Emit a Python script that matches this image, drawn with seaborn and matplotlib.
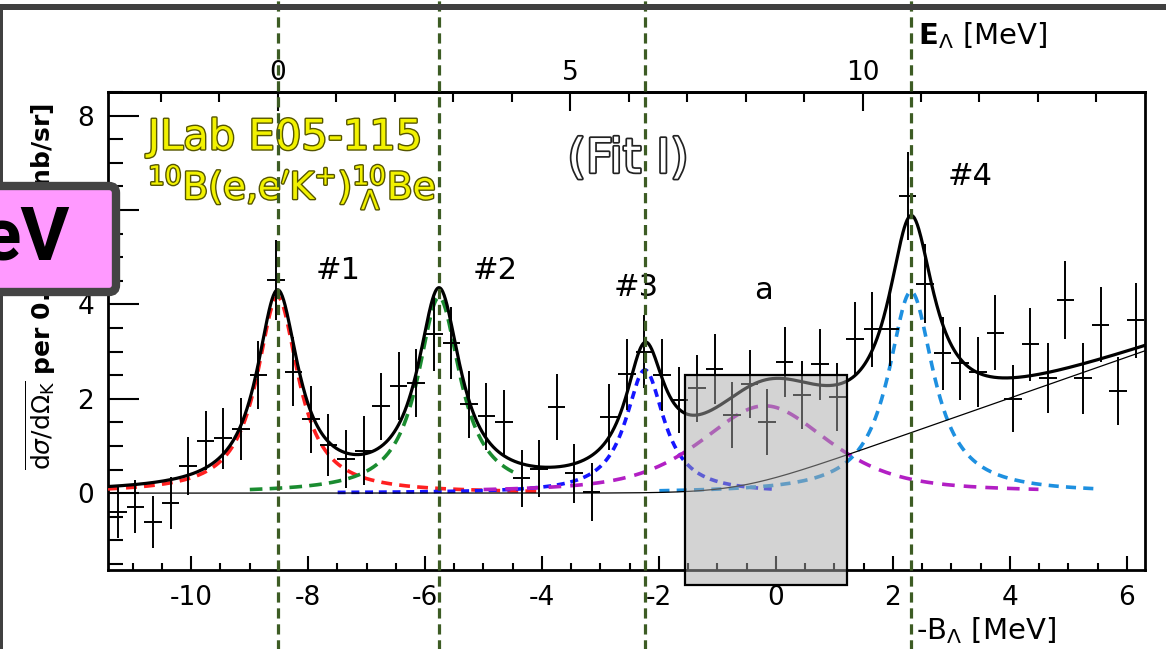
import numpy as np
import pandas as pd
import matplotlib
matplotlib.use("Agg")
import matplotlib.pyplot as plt
import matplotlib.patheffects as pe
from matplotlib.patches import Rectangle, FancyBboxPatch
from matplotlib.ticker import MultipleLocator, FixedLocator
from matplotlib.transforms import IdentityTransform
import seaborn as sns

# -B_Lambda [MeV] bin centres (0.3 MeV bins) and cross sections [nb/sr]
energy = [-11.25, -10.95, -10.65, -10.35, -10.05, -9.75, -9.45, -9.15, -8.85, -8.55,
          -8.25, -7.95, -7.65, -7.35, -7.05, -6.75, -6.45, -6.15, -5.85, -5.55,
          -5.25, -4.95, -4.65, -4.35, -4.05, -3.75, -3.45, -3.15, -2.85, -2.55,
          -2.25, -1.95, -1.65, -1.35, -1.05, -0.75, -0.45, -0.15, 0.15, 0.45,
          0.75, 1.05, 1.35, 1.65, 1.95, 2.25, 2.55, 2.85, 3.15, 3.45,
          3.75, 4.05, 4.35, 4.65, 4.95, 5.25, 5.55, 5.85, 6.15]
xsec = [-0.41, -0.29, -0.61, -0.21, 0.58, 1.11, 1.16, 1.36, 2.51, 4.51,
        2.57, 1.56, 1.02, 0.72, 0.90, 1.84, 2.27, 2.34, 3.38, 3.18,
        1.88, 1.63, 1.50, 0.31, 0.52, 1.82, 0.42, 0.02, 1.62, 2.52,
        3.00, 2.50, 1.97, 2.22, 2.63, 1.65, 2.31, 1.51, 2.78, 2.08,
        2.73, 2.03, 3.27, 3.47, 3.47, 6.29, 4.44, 2.96, 2.75, 2.57,
        3.40, 2.00, 3.15, 2.44, 4.09, 2.43, 3.57, 2.17, 3.66]
xsec_err = [0.55, 0.56, 0.55, 0.56, 0.61, 0.62, 0.65, 0.66, 0.72, 0.85,
            0.73, 0.72, 0.65, 0.62, 0.73, 0.71, 0.73, 0.72, 0.79, 0.76,
            0.71, 0.71, 0.69, 0.60, 0.61, 0.70, 0.62, 0.62, 0.70, 0.75,
            0.77, 0.76, 0.70, 0.71, 0.74, 0.70, 0.72, 0.70, 0.74, 0.72,
            0.75, 0.72, 0.77, 0.79, 0.78, 0.93, 0.84, 0.78, 0.77, 0.74,
            0.79, 0.71, 0.77, 0.75, 0.82, 0.75, 0.79, 0.72, 0.80]
bin_half = 0.15

# fit I components
peak_names = ["#1", "#2", "#3", "a", "#4"]
peak_pos = [-8.52, -5.76, -2.24, -0.19, 2.31]
peak_height = [4.16, 4.15, 2.61, 1.85, 4.27]
peak_hwhm = [0.43, 0.44, 0.40, 1.30, 0.47]
peak_lorentz = [1.0, 1.0, 1.0, 0.6, 1.0]
peak_from = [-11.42, -9.0, -7.5, -5.0, -2.0]
peak_to = [-4.05, -4.45, 0.0, 4.5, 5.55]
peak_colors = ["#ff2020", "#1a8c30", "#1515ff", "#b21fc4", "#1e90e0"]
peak_dash = [(3, 2), (3.5, 2), (2.2, 1.6), (3.5, 2.5), (2.8, 2)]

# quasi-free background
bg_threshold = -0.64
bg_slope = 0.434
bg_smear = 0.5

E_offset = 8.52  # E_Lambda = -B_Lambda + offset
top_ticks = [0, 5, 10]
xmin, xmax = -11.42, 6.31
ymin, ymax = -1.63, 8.5
box_e = (-1.55, 1.22)
box_y = (-1.95, 2.5)


def peak_shape(x, c, h, w, eta):
    lor = h / (1 + ((x - c) / w) ** 2)
    gau = h * np.exp(-((x - c) ** 2) / (2 * (w / 1.1774) ** 2))
    return eta * lor + (1 - eta) * gau


def background(x):
    return bg_slope * bg_smear * np.log1p(np.exp((x - bg_threshold) / bg_smear))


sns.set_style("ticks")
plt.rcParams["font.family"] = ["DejaVu Sans"]
plt.rcParams["axes.unicode_minus"] = False
for key in ["text.color", "axes.labelcolor", "xtick.color", "ytick.color", "axes.edgecolor"]:
    plt.rcParams[key] = "black"

fig = plt.figure(figsize=(11.66, 6.49), dpi=100)
ax = fig.add_axes([0.0926, 0.1217, 0.8894, 0.7365])

grid = np.linspace(xmin, xmax, 1500)
total = background(grid)
for i in range(len(peak_names)):
    total = total + peak_shape(grid, peak_pos[i], peak_height[i], peak_hwhm[i], peak_lorentz[i])

# components
for i in range(len(peak_names)):
    xs = grid[(grid >= peak_from[i]) & (grid <= peak_to[i])]
    ys = peak_shape(xs, peak_pos[i], peak_height[i], peak_hwhm[i], peak_lorentz[i])
    sns.lineplot(x=xs, y=ys, color=peak_colors[i], lw=2.6,
                 linestyle=(0, peak_dash[i]), ax=ax, zorder=3)

sns.lineplot(x=grid, y=background(grid), color="black", lw=0.9, ax=ax, zorder=3)
sns.lineplot(x=grid, y=total, color="black", lw=2.3, ax=ax, zorder=4)

ax.errorbar(energy, xsec, yerr=xsec_err, xerr=bin_half, fmt="none",
            ecolor="black", elinewidth=1.4, capsize=0, zorder=5)

# shaded region around peak a
ax.add_patch(Rectangle((box_e[0], box_y[0]), box_e[1] - box_e[0], box_y[1] - box_y[0],
                       facecolor="#a8a8a8", alpha=0.5, edgecolor="none",
                       clip_on=False, zorder=6))
ax.add_patch(Rectangle((box_e[0], box_y[0]), box_e[1] - box_e[0], box_y[1] - box_y[0],
                       facecolor="none", edgecolor="black", lw=1.6,
                       clip_on=False, zorder=6))

ax.set_xlim(xmin, xmax)
ax.set_ylim(ymin, ymax)
ax.set_xlabel("")
ax.set_ylabel("")

ax.xaxis.set_major_locator(MultipleLocator(2))
ax.xaxis.set_minor_locator(MultipleLocator(0.5))
ax.yaxis.set_major_locator(MultipleLocator(2))
ax.yaxis.set_minor_locator(MultipleLocator(0.5))
ax.tick_params(axis="x", which="major", direction="in", length=10, width=1.5,
               labelsize=19, pad=11, top=False)
ax.tick_params(axis="x", which="minor", direction="in", length=5, width=1.5, top=False)
ax.tick_params(axis="y", which="major", direction="in", length=22, width=1.5,
               labelsize=19, pad=10, right=False)
ax.tick_params(axis="y", which="minor", direction="in", length=11, width=1.5, right=False)
for s in ax.spines.values():
    s.set_linewidth(2)
    s.set_visible(True)

secax = ax.secondary_xaxis("top", functions=(lambda b: b + E_offset, lambda e: e - E_offset))
secax.xaxis.set_major_locator(FixedLocator(top_ticks))
secax.xaxis.set_minor_locator(MultipleLocator(1))
secax.tick_params(which="major", direction="in", length=14, width=1.5, labelsize=19, pad=4)
secax.tick_params(which="minor", direction="in", length=7, width=1.5)
secax.spines["top"].set_linewidth(2)

# peak markers
for i in [0, 1, 2, 4]:
    ax.axvline(peak_pos[i], ymin=-0.2, ymax=1.25, color="#3d5c24", lw=2.3,
               linestyle=(0, (3.2, 1.8)), clip_on=False, zorder=10)

# labels in the plot
yellow = dict(color="#f2f200", path_effects=[pe.withStroke(linewidth=2, foreground="#555500")])
ax.text(-10.74, 7.54, "JLab E05-115", fontsize=30, ha="left", va="center", **yellow)
ax.text(-10.74, 6.48, r"$^{10}$B(e,e$'$K$^{+}$)$^{10}_{\ \Lambda}$Be", fontsize=27,
        ha="left", va="center", **yellow)
ax.text(-2.53, 7.06, "(Fit I)", fontsize=34, ha="center", va="center", color="white",
        path_effects=[pe.withStroke(linewidth=2.5, foreground="#222222")])
label_xy = [(-7.49, 4.72), (-4.80, 4.72), (-2.39, 4.36), (-0.22, 4.30), (3.32, 6.72)]
for name, (lx, ly) in zip(peak_names, label_xy):
    ax.text(lx, ly, name, fontsize=22, ha="center", va="center", zorder=7)

fig.text(918 / 1166, 1 - 36 / 649, r"$\mathbf{E}_{\Lambda}$ [MeV]", fontsize=21,
         ha="left", va="center")
fig.text(916 / 1166, 1 - 631 / 649, r"-B$_{\Lambda}$ [MeV]", fontsize=21,
         ha="left", va="center")
fig.text(41 / 1166, 1 - 286 / 649,
         r"$\overline{\mathrm{d}\sigma/\mathrm{d}\Omega_{\mathrm{K}}}$ $\mathbf{per\ 0.3\ MeV\ [nb/sr]}$",
         rotation=90, fontsize=18, ha="center", va="center")

# slide frame
fig.add_artist(Rectangle((0, 1 - 9.5 / 649), 1, 6 / 649, transform=fig.transFigure,
                         facecolor="#404040", edgecolor="none", zorder=8))
fig.add_artist(Rectangle((0, 0), 3 / 1166, 1 - 9.5 / 649, transform=fig.transFigure,
                         facecolor="#404040", edgecolor="none", zorder=8))

# pink tag
fig.add_artist(FancyBboxPatch((-20, 357), 136, 106, boxstyle="round,pad=0,rounding_size=7",
                              transform=IdentityTransform(), facecolor="#ff99ff",
                              edgecolor="#444444", lw=6, zorder=20))
fig.text(70 / 1166, 1 - 260 / 649, "eV", fontsize=54, fontweight="bold", color="black",
         family=["Roboto", "DejaVu Sans"], ha="right", va="baseline", zorder=21)

fig.savefig("out.png", dpi=100)
